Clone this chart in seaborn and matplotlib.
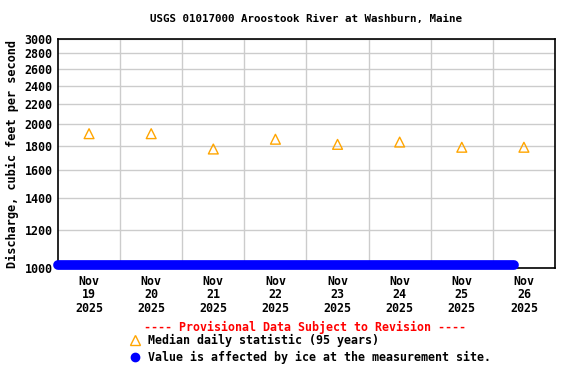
import pandas as pd
import numpy as np
import matplotlib
matplotlib.use('Agg')
import matplotlib.pyplot as plt
import matplotlib.dates as mdates
from matplotlib.lines import Line2D
from matplotlib.ticker import FixedLocator, NullLocator
import seaborn as sns

# Median daily statistic (95 years), plotted at noon of each day
median_days = ['2025-11-19', '2025-11-20', '2025-11-21', '2025-11-22',
               '2025-11-23', '2025-11-24', '2025-11-25', '2025-11-26']
median_cfs = [1905, 1905, 1770, 1855, 1810, 1830, 1785, 1785]

# Ice-affected record: shown along the bottom of the plot
ice_times = ['2025-11-19 00:00', '2025-11-26 08:15']
ice_cfs = [1017, 1017]

y_ticks = [1000, 1200, 1400, 1600, 1800, 2000, 2200, 2400, 2600, 2800, 3000]

sns.set_style('white')
plt.rcParams['font.family'] = ['DejaVu Sans Mono']
plt.rcParams['font.weight'] = 'bold'
plt.rcParams['text.color'] = 'black'
plt.rcParams['axes.labelcolor'] = 'black'
plt.rcParams['xtick.color'] = 'black'
plt.rcParams['ytick.color'] = 'black'

med = pd.DataFrame({'time': pd.to_datetime(median_days) + pd.Timedelta(hours=12),
                    'cfs': median_cfs})
ice = pd.DataFrame({'time': pd.to_datetime(ice_times), 'cfs': ice_cfs})

fig = plt.figure(figsize=(5.76, 3.84), dpi=100)
ax = fig.add_axes([0.1007, 0.302, 0.8628, 0.5964])

ax.set_yscale('log')
ax.set_ylim(1000, 3000)
ax.set_xlim(pd.Timestamp('2025-11-19'), pd.Timestamp('2025-11-27'))

sns.lineplot(data=ice, x='time', y='cfs', ax=ax, color='#0000FF', linewidth=7,
             solid_capstyle='round', clip_on=False, zorder=3)
sns.scatterplot(data=med, x='time', y='cfs', ax=ax, marker='^', s=50,
                facecolor='none', edgecolor='#FFA500', linewidth=1, zorder=4)

# axis ticks
ax.yaxis.set_major_locator(FixedLocator(y_ticks))
ax.yaxis.set_minor_locator(NullLocator())
ax.set_yticklabels([str(v) for v in y_ticks])
ax.xaxis.set_major_locator(FixedLocator(mdates.date2num(med['time'])))
ax.xaxis.set_major_formatter(mdates.DateFormatter('%b\n%d\n%Y'))
ax.xaxis.set_minor_locator(FixedLocator(mdates.date2num(
    pd.date_range('2025-11-20', '2025-11-26', freq='D'))))
ax.tick_params(axis='both', which='both', length=0, labelsize=8.4, pad=4,
               colors='black')
ax.tick_params(axis='x', pad=5)
for lab in ax.get_xticklabels() + ax.get_yticklabels():
    lab.set_fontweight('bold')
    lab.set_linespacing(1.05)

ax.grid(True, axis='y', which='major', color='#cccccc', linewidth=1)
ax.grid(True, axis='x', which='minor', color='#cccccc', linewidth=1)
ax.grid(False, axis='x', which='major')
for s in ax.spines.values():
    s.set_color('black')
    s.set_linewidth(1.2)

ax.set_xlabel('')
ax.set_ylabel('Discharge, cubic feet per second', fontsize=8.6, fontweight='bold',
              labelpad=4, color='black')
ax.set_title('USGS 01017000 Aroostook River at Washburn, Maine', fontsize=7.8,
             fontweight='bold', pad=12, color='black')

fig.text(0.53, 0.148, '---- Provisional Data Subject to Revision ----', color='red',
         ha='center', va='center', fontsize=8.4, fontweight='bold')

handles = [Line2D([], [], marker='^', linestyle='none', markerfacecolor='none',
                  markeredgecolor='#FFA500', markersize=7),
           Line2D([], [], marker='o', linestyle='none', color='#0000FF', markersize=6)]
fig.legend(handles, ['Median daily statistic (95 years)',
                     'Value is affected by ice at the measurement site.'],
           loc='upper left', bbox_to_anchor=(0.225, 0.131), frameon=False,
           handlelength=1, handletextpad=0.6, labelspacing=0.33,
           borderaxespad=0, borderpad=0, labelcolor='black',
           prop={'size': 8.4, 'weight': 'bold'})

fig.savefig('out.png', dpi=100)
